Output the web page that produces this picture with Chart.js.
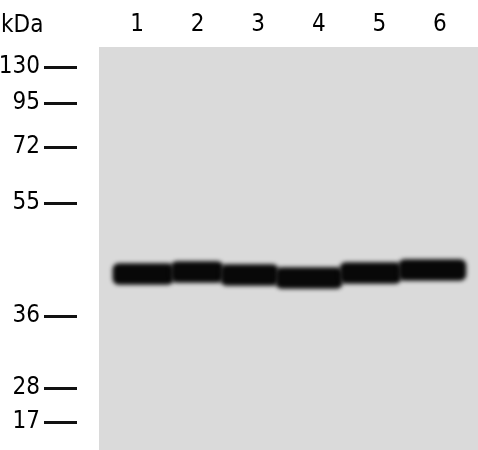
<!DOCTYPE html>
<html><head><meta charset="utf-8">
<script src="https://cdn.jsdelivr.net/npm/chart.js@4.4.1/dist/chart.umd.min.js"></script>
<style>html,body{margin:0;padding:0;background:#fff;}#wrap{width:478px;height:450px;}</style>
</head><body><div id="wrap"><canvas id="c" width="478" height="450"></canvas></div>
<script>
// Lane labels and molecular-weight marker ladder
const laneLabels = ['1', '2', '3', '4', '5', '6'];
const markerKDa = ['130', '95', '72', '55', '36', '28', '17'];
const markerMigration = [20, 56, 100, 156, 269, 341, 375];   // distance from top of blot
// Detected band per lane: horizontal extent (lane units) and migration distance
const bandStart = [0.60, 1.56, 2.38, 3.29, 4.35, 5.32];
const bandEnd = [1.60, 2.42, 3.33, 4.39, 5.36, 6.43];
const bandMigration = [227, 225, 228, 231, 226, 223];

const FONT = "'DejaVu Sans Condensed', 'DejaVu Sans', sans-serif";
const FSIZE = 24;

const blotPlugin = {
  id: 'blot',
  beforeDraw(chart) {
    const { ctx, chartArea: a } = chart;
    ctx.save();
    ctx.fillStyle = '#dadada';
    ctx.fillRect(a.left, a.top, a.right - a.left, a.bottom - a.top);
    ctx.restore();
  },
  beforeDatasetsDraw(chart) {
    chart.ctx.save();
    chart.ctx.filter = 'blur(2px)';
  },
  afterDatasetsDraw(chart) {
    chart.ctx.restore();
  },
  afterDraw(chart) {
    const ctx = chart.ctx;
    const s = chart.scales.x;
    ctx.save();
    ctx.font = FSIZE + 'px ' + FONT;
    ctx.fillStyle = '#000';
    ctx.textAlign = 'left';
    ctx.textBaseline = 'middle';
    ctx.fillText('kDa', 1, s.bottom - 21);
    ctx.restore();
  }
};

new Chart(document.getElementById('c'), {
  type: 'bar',
  data: {
    datasets: [{
      data: laneLabels.map((l, i) => ({ x: [bandStart[i], bandEnd[i]], y: bandMigration[i] })),
      backgroundColor: '#080808',
      borderWidth: 0,
      borderRadius: 6,
      borderSkipped: false,
      barThickness: 21
    }]
  },
  options: {
    indexAxis: 'y',
    responsive: false,
    animation: false,
    layout: { padding: 0 },
    plugins: { legend: { display: false }, tooltip: { enabled: false } },
    scales: {
      x: {
        type: 'linear',
        position: 'top',
        min: 0.37,
        max: 6.63,
        grid: { display: false },
        border: { display: false },
        ticks: {
          autoSkip: false, maxRotation: 0, padding: 0, color: '#000',
          font: { family: FONT, size: FSIZE },
          callback: (v, i) => laneLabels[i]
        },
        afterBuildTicks: (scale) => { scale.ticks = laneLabels.map((l, i) => ({ value: i + 1 })); },
        afterFit: (scale) => { scale.height = 47; scale.paddingLeft = 0; scale.paddingRight = 0; }
      },
      y: {
        type: 'linear',
        position: 'left',
        reverse: true,
        min: 0,
        max: 403,
        offset: false,
        grid: {
          offset: false,
          drawOnChartArea: false,
          drawTicks: true,
          tickLength: 55,
          tickWidth: 3,
          tickColor: '#111',
          tickBorderDash: [33, 40]
        },
        border: { display: false },
        ticks: {
          autoSkip: false, padding: 4, color: '#000',
          font: { family: FONT, size: FSIZE },
          callback: (v, i) => markerKDa[i]
        },
        afterBuildTicks: (scale) => { scale.ticks = markerMigration.map(v => ({ value: v })); },
        afterFit: (scale) => { scale.width = 99; scale.paddingTop = 0; scale.paddingBottom = 0; }
      }
    }
  },
  plugins: [blotPlugin]
});
</script>
</body></html>
